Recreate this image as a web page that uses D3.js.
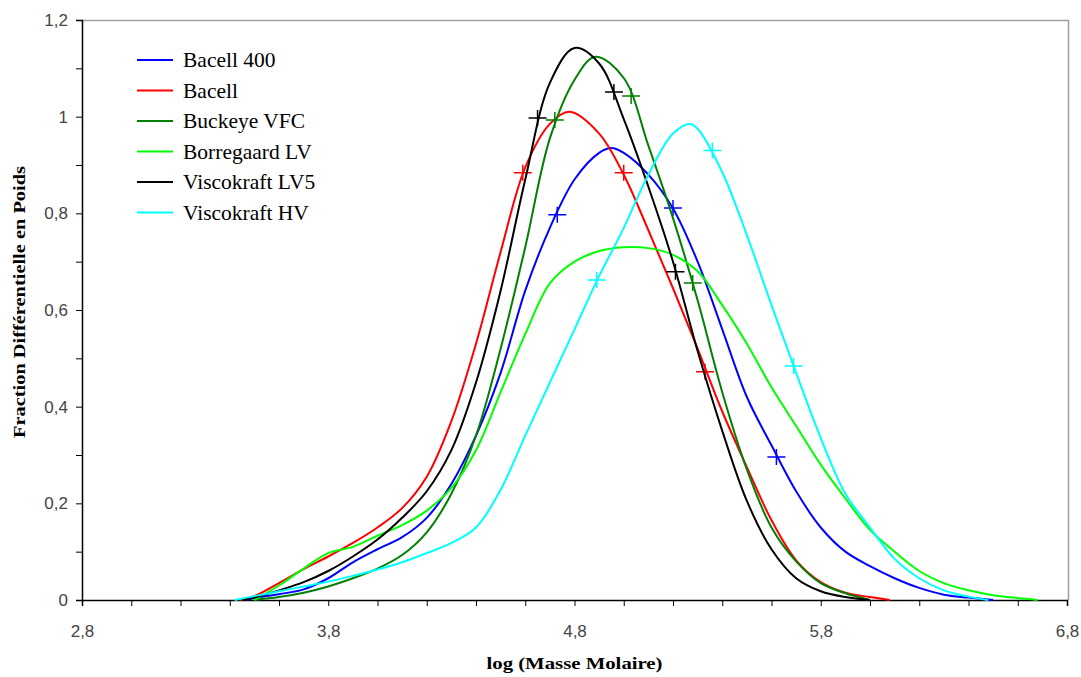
<!DOCTYPE html>
<html><head><meta charset="utf-8">
<script src="https://cdn.jsdelivr.net/npm/d3@7/dist/d3.min.js"></script>
<style>body{margin:0;background:#fff}svg{display:block}
.serif{font-family:"Liberation Serif","Times New Roman",Times,"DejaVu Serif",serif}
.sans{font-family:"Liberation Sans",Arial,sans-serif}
</style>
</head><body><svg id="c" width="1081" height="677"></svg>
<script>
const seriesNames = ["Bacell 400","Bacell","Buckeye VFC","Borregaard LV","Viscokraft LV5","Viscokraft HV"];
const bacell400 = [[3.47,0],[3.5,0.004],[3.6,0.012],[3.7,0.022],[3.8,0.045],[3.9,0.078],[4.0,0.105],[4.1,0.13],[4.2,0.17],[4.3,0.24],[4.4,0.34],[4.5,0.47],[4.6,0.64],[4.7,0.77],[4.8,0.87],[4.9,0.925],[4.95,0.935],[5.0,0.925],[5.1,0.88],[5.2,0.81],[5.3,0.70],[5.4,0.56],[5.5,0.42],[5.6,0.32],[5.7,0.225],[5.8,0.15],[5.9,0.10],[6.0,0.07],[6.1,0.045],[6.2,0.025],[6.3,0.011],[6.4,0.005],[6.5,0]];
const bacell = [[3.44,0],[3.5,0.008],[3.6,0.035],[3.7,0.064],[3.8,0.09],[3.9,0.118],[4.0,0.15],[4.1,0.19],[4.2,0.255],[4.3,0.37],[4.4,0.53],[4.5,0.72],[4.6,0.895],[4.7,0.985],[4.78,1.01],[4.9,0.965],[5.0,0.88],[5.1,0.765],[5.2,0.645],[5.3,0.52],[5.4,0.39],[5.5,0.275],[5.6,0.165],[5.7,0.082],[5.8,0.037],[5.9,0.015],[6.0,0.006],[6.08,0]];
const buckeyeVFC = [[3.5,0],[3.6,0.006],[3.7,0.015],[3.8,0.028],[3.9,0.045],[4.0,0.065],[4.1,0.093],[4.2,0.14],[4.3,0.22],[4.4,0.34],[4.5,0.52],[4.6,0.73],[4.7,0.955],[4.8,1.076],[4.885,1.124],[5.0,1.08],[5.1,0.94],[5.2,0.79],[5.3,0.62],[5.4,0.43],[5.5,0.27],[5.6,0.15],[5.7,0.08],[5.8,0.035],[5.9,0.014],[6.0,0]];
const borregaardLV = [[3.5,0],[3.6,0.03],[3.7,0.065],[3.8,0.097],[3.9,0.11],[4.0,0.133],[4.1,0.155],[4.2,0.185],[4.3,0.232],[4.4,0.31],[4.5,0.43],[4.6,0.55],[4.7,0.655],[4.8,0.70],[4.9,0.722],[5.0,0.73],[5.1,0.728],[5.2,0.714],[5.3,0.68],[5.4,0.61],[5.5,0.53],[5.6,0.44],[5.7,0.36],[5.8,0.28],[5.9,0.21],[6.0,0.145],[6.1,0.10],[6.2,0.06],[6.3,0.035],[6.4,0.02],[6.5,0.01],[6.6,0.004],[6.68,0]];
const viscokraftLV5 = [[3.45,0],[3.5,0.005],[3.6,0.02],[3.7,0.037],[3.8,0.06],[3.9,0.09],[4.0,0.125],[4.1,0.17],[4.2,0.225],[4.3,0.31],[4.4,0.45],[4.5,0.64],[4.6,0.87],[4.7,1.07],[4.8,1.142],[4.9,1.11],[5.0,0.995],[5.1,0.855],[5.2,0.70],[5.3,0.515],[5.4,0.35],[5.5,0.205],[5.6,0.105],[5.7,0.045],[5.8,0.018],[5.9,0.006],[6.0,0]];
const viscokraftHV = [[3.42,0],[3.5,0.008],[3.6,0.018],[3.7,0.028],[3.8,0.038],[3.9,0.05],[4.0,0.063],[4.1,0.078],[4.2,0.097],[4.3,0.118],[4.4,0.15],[4.5,0.228],[4.6,0.34],[4.7,0.45],[4.8,0.56],[4.9,0.67],[5.0,0.77],[5.1,0.88],[5.2,0.965],[5.27,0.985],[5.3,0.975],[5.4,0.885],[5.5,0.755],[5.6,0.61],[5.7,0.47],[5.8,0.335],[5.9,0.22],[6.0,0.15],[6.1,0.085],[6.2,0.045],[6.3,0.02],[6.4,0.007],[6.48,0]];
const markers400 = [[4.73,0.797],[5.20,0.811],[5.62,0.296]];
const markersBacell = [[4.59,0.884],[5.0,0.884],[5.33,0.472]];
const markersBuckeye = [[4.72,0.993],[5.03,1.043],[5.28,0.656]];
const markersBorregaard = [];
const markersLV5 = [[4.65,0.997],[4.96,1.051],[5.21,0.679]];
const markersHV = [[4.89,0.662],[5.36,0.93],[5.69,0.484]];
const xTicks = [2.8,3.0,3.2,3.4,3.6,3.8,4.0,4.2,4.4,4.6,4.8,5.0,5.2,5.4,5.6,5.8,6.0,6.2,6.4,6.6,6.8];
const xLabels = [2.8,3.8,4.8,5.8,6.8];
const yTicks = [0,0.1,0.2,0.3,0.4,0.5,0.6,0.7,0.8,0.9,1.0,1.1,1.2];
const yLabels = [0,0.2,0.4,0.6,0.8,1,1.2];

const seriesData = [bacell400,bacell,buckeyeVFC,borregaardLV,viscokraftLV5,viscokraftHV];
const seriesMarkers = [markers400,markersBacell,markersBuckeye,markersBorregaard,markersLV5,markersHV];
const colors = ["#0000ff","#ff0000","#008000","#00ff00","#000000","#00ffff"];

const svg = d3.select("#c");
const L=82, R=1067, T=20, B=600;
const x = d3.scaleLinear().domain([2.8,6.8]).range([L,R]);
const y = d3.scaleLinear().domain([0,1.2]).range([B,T]);
const fmt = v => d3.format(".1f")(v).replace(".",",").replace(/,0$/,"");
const isLab = (arr,d) => arr.some(v=>Math.abs(v-d)<1e-9);

// frame
svg.append("path").attr("d",`M${L},${T+0.5}H${R+1.5}V${B}`).attr("fill","none").attr("stroke","#a0a0a0").attr("stroke-width",1.5);

// axes
const xAxis = svg.append("g").attr("transform",`translate(0,${B})`)
  .call(d3.axisBottom(x).tickValues(xTicks).tickSize(6).tickFormat(d => isLab(xLabels,d)? fmt(d):""));
xAxis.select(".domain").attr("stroke","#000").attr("stroke-width",1.5);
xAxis.selectAll(".tick line").attr("stroke","#000");
xAxis.selectAll("text").attr("class","sans").attr("font-size",17).attr("fill","#444").attr("y",25);

const yAxis = svg.append("g").attr("transform",`translate(${L},0)`)
  .call(d3.axisLeft(y).tickValues(yTicks).tickSize(6).tickFormat(d => isLab(yLabels,d)? fmt(d):""));
yAxis.select(".domain").attr("stroke","#000").attr("stroke-width",1.5);
yAxis.selectAll(".tick line").attr("stroke","#000");
yAxis.selectAll("text").attr("class","sans").attr("font-size",17).attr("fill","#444").attr("x",-14);
svg.selectAll("g").attr("font-family",null);

// titles
svg.append("text").attr("class","serif").attr("x",(L+R)/2).attr("y",669).attr("text-anchor","middle")
  .attr("font-weight","bold").attr("font-size",17).attr("textLength",176).attr("lengthAdjust","spacingAndGlyphs")
  .text("log (Masse Molaire)");
svg.append("text").attr("class","serif").attr("transform",`translate(25,${302}) rotate(-90)`).attr("text-anchor","middle")
  .attr("font-weight","bold").attr("font-size",16).attr("textLength",272).attr("lengthAdjust","spacingAndGlyphs")
  .text("Fraction Différentielle en Poids");

// lines
const line = d3.line().x(d=>x(d[0])).y(d=>y(d[1])).curve(d3.curveCatmullRom.alpha(0.5));
seriesData.forEach((s,i)=>{
  svg.append("path").datum(s).attr("d",line).attr("fill","none").attr("stroke",colors[i]).attr("stroke-width",2);
  svg.append("g").selectAll("path").data(seriesMarkers[i]).join("path")
    .attr("d",d=>`M${x(d[0])-9},${y(d[1])}h18M${x(d[0])},${y(d[1])-8}v16`)
    .attr("stroke",colors[i]).attr("stroke-width",1.5).attr("fill","none");
});

// legend
const lg = svg.append("g");
seriesNames.forEach((n,i)=>{
  const yy = 60 + i*30.5;
  lg.append("line").attr("x1",137).attr("x2",173).attr("y1",yy).attr("y2",yy).attr("stroke",colors[i]).attr("stroke-width",2);
  lg.append("text").attr("class","serif").attr("x",183).attr("y",yy+7).attr("font-size",21.5).attr("fill","#000").text(n);
});
</script></body></html>
